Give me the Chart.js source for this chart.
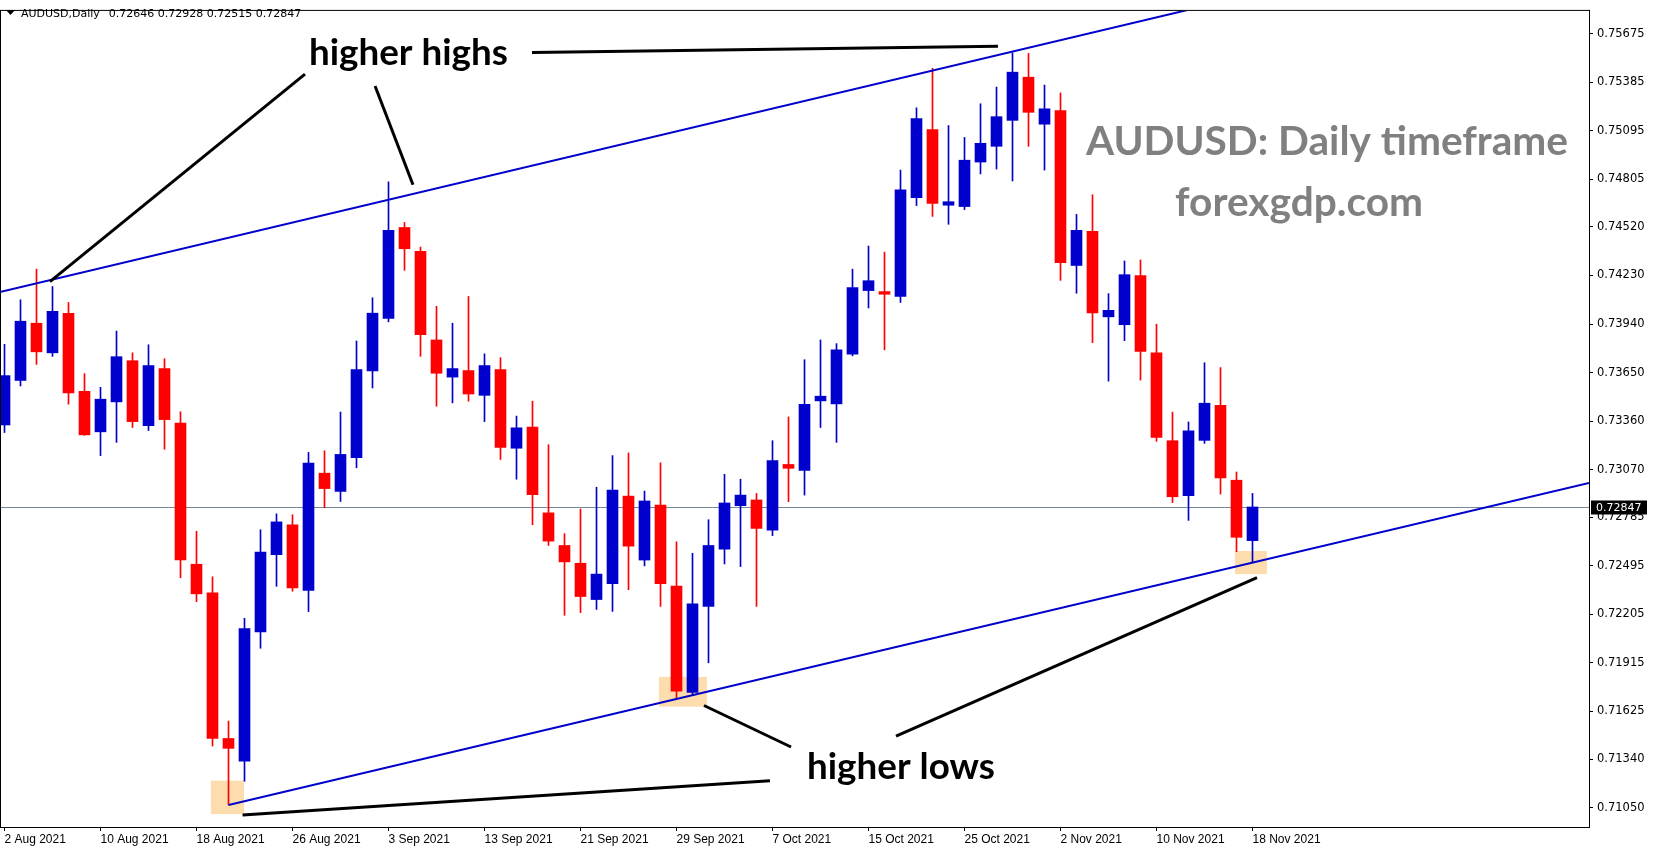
<!DOCTYPE html>
<html>
<head>
<meta charset="utf-8">
<title>AUDUSD Daily</title>
<script src="https://cdn.jsdelivr.net/npm/chart.js@4.4.0/dist/chart.umd.min.js"></script>
<style>
  html, body { margin: 0; padding: 0; background: #fff; overflow: hidden; }
  #wrap { position: relative; width: 1653px; height: 850px; }
</style>
</head>
<body>
<div id="wrap"><canvas id="chart" width="1653" height="850"></canvas></div>
<script>
// daily bars, 2 Aug 2021 .. 18 Nov 2021
const dates = [
  "2 Aug 2021","3 Aug 2021","4 Aug 2021","5 Aug 2021","6 Aug 2021","9 Aug 2021","10 Aug 2021","11 Aug 2021","12 Aug 2021","13 Aug 2021",
  "16 Aug 2021","17 Aug 2021","18 Aug 2021","19 Aug 2021","20 Aug 2021","23 Aug 2021","24 Aug 2021","25 Aug 2021","26 Aug 2021","27 Aug 2021",
  "30 Aug 2021","31 Aug 2021","1 Sep 2021","2 Sep 2021","3 Sep 2021","6 Sep 2021","7 Sep 2021","8 Sep 2021","9 Sep 2021","10 Sep 2021",
  "13 Sep 2021","14 Sep 2021","15 Sep 2021","16 Sep 2021","17 Sep 2021","20 Sep 2021","21 Sep 2021","22 Sep 2021","23 Sep 2021","24 Sep 2021",
  "27 Sep 2021","28 Sep 2021","29 Sep 2021","30 Sep 2021","1 Oct 2021","4 Oct 2021","5 Oct 2021","6 Oct 2021","7 Oct 2021","8 Oct 2021",
  "11 Oct 2021","12 Oct 2021","13 Oct 2021","14 Oct 2021","15 Oct 2021","18 Oct 2021","19 Oct 2021","20 Oct 2021","21 Oct 2021","22 Oct 2021",
  "25 Oct 2021","26 Oct 2021","27 Oct 2021","28 Oct 2021","29 Oct 2021","1 Nov 2021","2 Nov 2021","3 Nov 2021","4 Nov 2021","5 Nov 2021",
  "8 Nov 2021","9 Nov 2021","10 Nov 2021","11 Nov 2021","12 Nov 2021","15 Nov 2021","16 Nov 2021","17 Nov 2021","18 Nov 2021"
];

const opens = [
  0.73337,0.73603,0.73945,0.73768,0.74004,0.73538,0.73296,0.73475,0.73721,0.73333,
  0.73674,0.73349,0.72505,0.72334,0.71464,0.71328,0.72100,0.72562,0.72741,0.72348,
  0.73049,0.72940,0.73141,0.73660,0.73973,0.74517,0.74375,0.73845,0.73623,0.73662,
  0.73514,0.73668,0.73198,0.73325,0.72812,0.72617,0.72511,0.72294,0.72389,0.72912,
  0.72530,0.72859,0.72375,0.71739,0.72253,0.72595,0.72855,0.72889,0.72708,0.73101,
  0.73066,0.73481,0.73463,0.73760,0.74140,0.74134,0.74105,0.74695,0.75102,0.74650,
  0.74642,0.74908,0.75002,0.75157,0.75415,0.75134,0.75215,0.74290,0.74494,0.73983,
  0.73936,0.74229,0.73768,0.73243,0.72914,0.73245,0.73455,0.73007,0.72646
];
const highs = [
  0.73819,0.74085,0.74268,0.74164,0.74069,0.73644,0.73562,0.73898,0.73768,0.73816,
  0.73733,0.73416,0.72702,0.72430,0.71568,0.72182,0.72711,0.72806,0.72801,0.73173,
  0.73183,0.73414,0.73839,0.74097,0.74790,0.74547,0.74400,0.74046,0.73945,0.74105,
  0.73762,0.73739,0.73390,0.73479,0.73219,0.72688,0.72835,0.72965,0.73154,0.73170,
  0.72942,0.73111,0.72639,0.72570,0.72771,0.73042,0.73013,0.72928,0.73243,0.73385,
  0.73727,0.73845,0.73823,0.74268,0.74406,0.74370,0.74860,0.75232,0.75468,0.75126,
  0.75055,0.75256,0.75356,0.75561,0.75557,0.75368,0.75321,0.74595,0.74713,0.74122,
  0.74317,0.74323,0.73939,0.73414,0.73355,0.73709,0.73680,0.73056,0.72928
];
const lows = [
  0.73292,0.73570,0.73699,0.73747,0.73461,0.73275,0.73154,0.73233,0.73322,0.73304,
  0.73192,0.72424,0.72281,0.71419,0.71067,0.71208,0.72003,0.72373,0.72344,0.72222,
  0.72843,0.72880,0.73081,0.73558,0.73953,0.74261,0.73747,0.73449,0.73469,0.73479,
  0.73357,0.73131,0.73013,0.72741,0.72617,0.72200,0.72216,0.72235,0.72223,0.72353,
  0.72495,0.72253,0.71704,0.71720,0.71916,0.72507,0.72491,0.72253,0.72676,0.72879,
  0.72918,0.73322,0.73233,0.73750,0.74036,0.73786,0.74069,0.74648,0.74583,0.74536,
  0.74624,0.74837,0.74866,0.74795,0.75002,0.74860,0.74201,0.74124,0.73829,0.73599,
  0.73841,0.73605,0.73239,0.72873,0.72767,0.73227,0.72924,0.72580,0.72515
];
const closes = [
  0.73632,0.73957,0.73774,0.74016,0.73528,0.73278,0.73491,0.73745,0.73357,0.73692,
  0.73369,0.72531,0.72328,0.71464,0.71405,0.72120,0.72577,0.72758,0.72363,0.73109,
  0.72957,0.73161,0.73668,0.74005,0.74500,0.74390,0.73877,0.73646,0.73674,0.73522,
  0.73692,0.73203,0.73320,0.72920,0.72643,0.72519,0.72312,0.72446,0.72948,0.72613,
  0.72883,0.72389,0.71747,0.72269,0.72617,0.72871,0.72918,0.72719,0.73125,0.73078,
  0.73461,0.73509,0.73786,0.74158,0.74199,0.74118,0.74742,0.75167,0.74661,0.74671,
  0.74919,0.75020,0.75179,0.75445,0.75205,0.75226,0.74307,0.74500,0.74006,0.74022,
  0.74235,0.73776,0.73262,0.72908,0.73302,0.73467,0.73020,0.72666,0.72847
];

const priceTicks = [0.75675, 0.75385, 0.75095, 0.74805, 0.74520, 0.74230, 0.73940, 0.73650,
  0.73360, 0.73070, 0.72785, 0.72495, 0.72205, 0.71915, 0.71625, 0.71340, 0.71050];
const dateTickStep = 6;
const lastPrice = 0.72847;

// channel lines: [bar index, price] anchors
const upperTrend = [[0, 0.74138], [63, 0.75568]];
const lowerTrend = [[14, 0.71067], [78, 0.72515]];

const UP = "#0000cc";
const DOWN = "#ff0000";
const barColors = opens.map((o, i) => (closes[i] >= o ? UP : DOWN));

function fitText(ctx, text, x0, x1, baseY, weight, family, color) {
  ctx.font = weight + " 100px " + family;
  const w = ctx.measureText(text).width;
  const size = 100 * (x1 - x0) / w;
  ctx.font = weight + " " + size.toFixed(2) + "px " + family;
  ctx.fillStyle = color;
  ctx.textAlign = "left";
  ctx.textBaseline = "alphabetic";
  ctx.fillText(text, x0, baseY);
}

function extendLine(chart, pts, fromStart) {
  const { chartArea: a, scales: { x, y } } = chart;
  const x0 = x.getPixelForValue(pts[0][0]), y0 = y.getPixelForValue(pts[0][1]);
  const x1 = x.getPixelForValue(pts[1][0]), y1 = y.getPixelForValue(pts[1][1]);
  const k = (y1 - y0) / (x1 - x0);
  const sx = fromStart ? a.left : x0;
  const ex = a.right;
  return [sx, y0 + (sx - x0) * k, ex, y0 + (ex - x0) * k];
}

const overlay = {
  id: "overlay",
  beforeDatasetsDraw(chart) {
    const { ctx, chartArea: a, scales: { x, y } } = chart;
    const X = v => x.getPixelForValue(v), Y = v => y.getPixelForValue(v);
    ctx.save();
    ctx.beginPath();
    ctx.rect(a.left, a.top, a.right - a.left, a.bottom - a.top);
    ctx.clip();
    // highlight boxes at the touches
    ctx.fillStyle = "#fddcae";
    [[12.9, 14.97, 0.71212, 0.71012], [40.9, 43.9, 0.71832, 0.71654], [76.9, 78.9, 0.72584, 0.72446]]
      .forEach(b => ctx.fillRect(X(b[0]), Y(b[2]), X(b[1]) - X(b[0]), Y(b[3]) - Y(b[2])));
    // bid line
    const yb = Math.round(Y(lastPrice)) + 0.5;
    ctx.strokeStyle = "#778899";
    ctx.lineWidth = 1;
    ctx.beginPath();
    ctx.moveTo(a.left, yb);
    ctx.lineTo(a.right, yb);
    ctx.stroke();
    ctx.restore();
  },
  afterDatasetsDraw(chart) {
    const { ctx, chartArea: a, scales: { x, y } } = chart;
    const X = v => x.getPixelForValue(v), Y = v => y.getPixelForValue(v);
    ctx.save();
    ctx.beginPath();
    ctx.rect(a.left, a.top, a.right - a.left, a.bottom - a.top);
    ctx.clip();

    // channel
    ctx.strokeStyle = UP;
    ctx.lineWidth = 2;
    [extendLine(chart, upperTrend, true), extendLine(chart, lowerTrend, false)].forEach(l => {
      ctx.beginPath();
      ctx.moveTo(l[0], l[1]);
      ctx.lineTo(l[2], l[3]);
      ctx.stroke();
    });

    // pointer lines
    ctx.strokeStyle = "#000";
    ctx.lineWidth = 3;
    [
      [32.97, 0.75563, 62.09, 0.75600],
      [18.78, 0.75433, 2.84, 0.74193],
      [23.16, 0.75362, 25.53, 0.74772],
      [14.88, 0.71006, 47.84, 0.71212],
      [43.72, 0.71661, 49.16, 0.71413],
      [55.72, 0.71478, 78.28, 0.72425]
    ].forEach(l => {
      ctx.beginPath();
      ctx.moveTo(X(l[0]), Y(l[1]));
      ctx.lineTo(X(l[2]), Y(l[3]));
      ctx.stroke();
    });

    fitText(ctx, "higher highs", X(19.03), X(31.47), Y(0.75487), "bold", "Lato", "#000");
    fitText(ctx, "higher lows", X(50.16), X(61.9), Y(0.71224), "bold", "Lato", "#000");
    fitText(ctx, "AUDUSD: Daily timeframe", X(67.59), X(97.72), Y(0.74950), "bold", "Lato", "#808080");
    fitText(ctx, "forexgdp.com", X(73.16), X(88.66), Y(0.74583), "bold", "Lato", "#808080");
    ctx.restore();
  },
  afterDraw(chart) {
    const { ctx, chartArea: a, scales: { y } } = chart;
    ctx.save();
    // frame
    ctx.strokeStyle = "#000";
    ctx.lineWidth = 1;
    ctx.strokeRect(a.left - 0.5, a.top - 0.5, a.right - a.left + 1, a.bottom - a.top + 1);

    // symbol header
    ctx.fillStyle = "#000";
    ctx.beginPath();
    ctx.moveTo(6, 10);
    ctx.lineTo(15, 10);
    ctx.lineTo(10.5, 15);
    ctx.closePath();
    ctx.fill();
    ctx.font = "11px 'DejaVu Sans'";
    ctx.textBaseline = "alphabetic";
    ctx.textAlign = "left";
    const name = "AUDUSD,Daily";
    ctx.fillText(name, 21, 17);
    const nx = 21 + ctx.measureText(name + "  ").width + 2;
    ctx.fillText([opens[78], highs[78], lows[78], closes[78]].map(v => v.toFixed(5)).join(" "), nx, 17);

    // last price tag
    const yb = Math.round(y.getPixelForValue(lastPrice)) + 0.5;
    ctx.fillStyle = "#000";
    ctx.fillRect(a.right + 2, yb - 7, 56, 14);
    ctx.fillStyle = "#fff";
    ctx.textBaseline = "middle";
    ctx.fillText(lastPrice.toFixed(5), a.right + 7, yb + 0.5);
    ctx.restore();
  }
};

const ctx = document.getElementById("chart").getContext("2d");
const chart = new Chart(ctx, {
  type: "bar",
  data: {
    datasets: [
      {
        label: "wick",
        data: dates.map((d, i) => ({ x: i, y: [lows[i], highs[i]] })),
        backgroundColor: barColors,
        barThickness: 1,
        grouped: false,
        order: 2
      },
      {
        label: "body",
        data: dates.map((d, i) => ({ x: i, y: [opens[i], closes[i]] })),
        backgroundColor: barColors,
        barThickness: 11,
        minBarLength: 1,
        grouped: false,
        order: 1
      }
    ]
  },
  options: {
    responsive: false,
    animation: false,
    devicePixelRatio: 1,
    layout: { padding: { left: 1, top: 1, right: 0, bottom: 0 } },
    plugins: { legend: { display: false }, tooltip: { enabled: false } },
    scales: {
      x: {
        type: "linear",
        min: -0.21875,
        max: 99.03125,
        offset: false,
        border: { display: false },
        grid: { drawOnChartArea: false, offset: false, color: "#000", tickLength: 4 },
        ticks: {
          autoSkip: false,
          maxRotation: 0,
          align: "start",
          padding: 1,
          color: "#000",
          font: { family: "'Liberation Sans'", size: 12 },
          callback: v => dates[v]
        },
        afterBuildTicks: s => {
          s.ticks = dates.map((d, i) => i).filter(i => i % dateTickStep === 0).map(i => ({ value: i }));
        },
        afterFit: s => { s.height = 23; }
      },
      y: {
        type: "linear",
        position: "right",
        min: 0.70935,
        max: 0.75811,
        border: { display: false },
        grid: { drawOnChartArea: false, color: "#000", tickLength: 4 },
        ticks: {
          padding: 4,
          color: "#000",
          font: { family: "'DejaVu Sans'", size: 11.5 },
          callback: v => v.toFixed(5)
        },
        afterBuildTicks: s => { s.ticks = priceTicks.map(v => ({ value: v })); },
        afterFit: s => { s.width = 64; }
      }
    }
  },
  plugins: [overlay]
});
</script>
</body>
</html>
